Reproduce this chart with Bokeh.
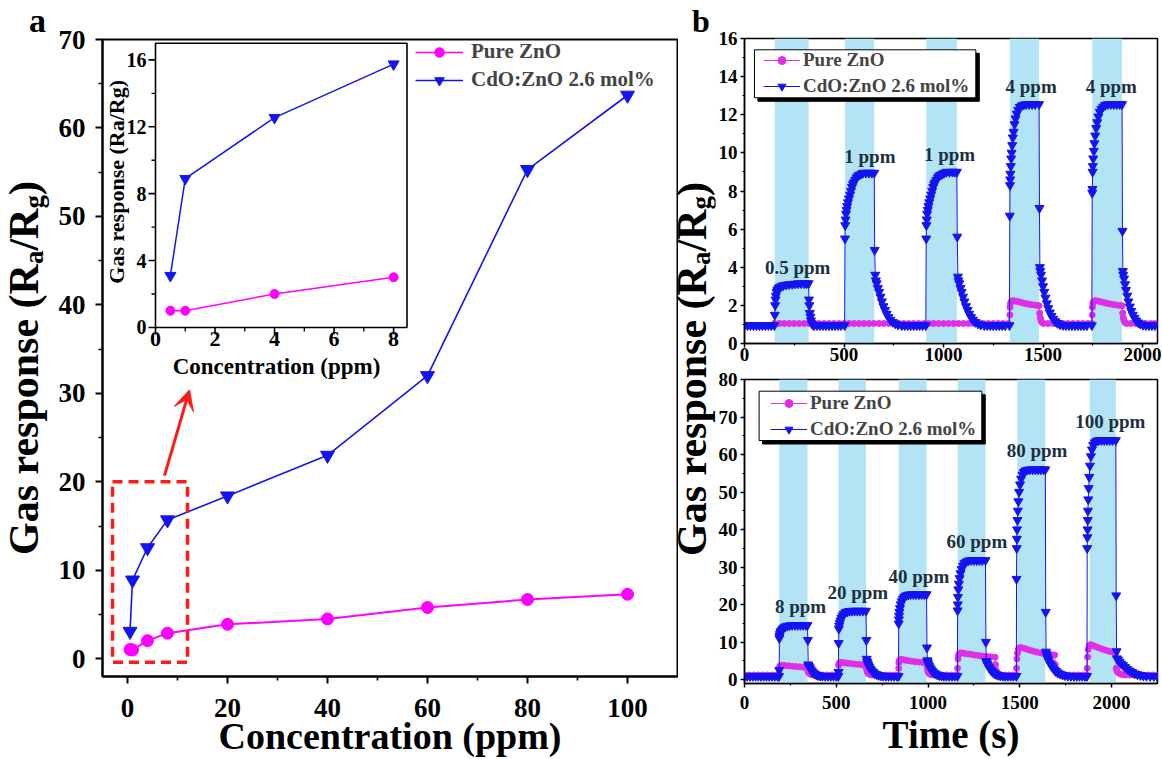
import math
from bokeh.plotting import figure
from bokeh.models import (Range1d, FixedTicker, Legend, LegendItem, Div,
                          BoxAnnotation, Arrow, VeeHead)
from bokeh.layouts import row, column
from bokeh.core.properties import value
from bokeh.embed import file_html
from bokeh.resources import INLINE

FONT = "Liberation Serif"

# ---------------- panel a data ----------------
conc = [0.5, 1, 4, 8, 20, 40, 60, 80, 100]
zno_resp = [1.05, 1.0, 2.05, 2.9, 3.9, 4.5, 5.8, 6.7, 7.3]
cdo_resp = [3.1, 8.9, 12.55, 15.7, 18.4, 23.0, 32.0, 55.3, 63.7]
inset_conc = [0.5, 1, 4, 8]
inset_zno = [1.0, 1.0, 2.0, 3.0]
inset_cdo = [3.1, 8.9, 12.55, 15.75]
a_xticks = [0, 20, 40, 60, 80, 100]
a_xminor = [10, 30, 50, 70, 90]
a_yticks = [0, 10, 20, 30, 40, 50, 60, 70]
a_yminor = [5, 15, 25, 35, 45, 55, 65]
inset_xticks = [0, 2, 4, 6, 8]
inset_xminor = [1, 3, 5, 7]
inset_yticks = [0, 4, 8, 12, 16]
inset_yminor = [2, 6, 10, 14]
zoom_box = [-3, 12, -0.4, 20]          # left, right, bottom, top (ppm, response)
zoom_arrow = [7.4, 20.7, 12.4, 30.4]   # x_start, y_start, x_end, y_end

# ---------------- panel b data ----------------
b_xticks = [0, 500, 1000, 1500, 2000]
b_xminor = [250, 750, 1250, 1750]
top_yticks = [0, 2, 4, 6, 8, 10, 12, 14, 16]
top_yminor = [1, 3, 5, 7, 9, 11, 13, 15]
bot_yticks = [0, 10, 20, 30, 40, 50, 60, 70, 80]
bot_yminor = [5, 15, 25, 35, 45, 55, 65, 75]

top_band_start = [152, 505, 913, 1333, 1747]
top_band_end = [322, 652, 1067, 1480, 1897]
top_labels = ["0.5 ppm", "1 ppm", "1 ppm", "4 ppm", "4 ppm"]
top_label_t = [267, 630, 1030, 1440, 1843]
top_label_v = [4.0, 9.8, 9.9, 13.5, 13.5]

bot_band_start = [189, 512, 840, 1161, 1486, 1881]
bot_band_end = [343, 662, 992, 1313, 1639, 2023]
bot_labels = ["8 ppm", "20 ppm", "40 ppm", "60 ppm", "80 ppm", "100 ppm"]
bot_label_t = [305, 617, 950, 1266, 1594, 1993]
bot_label_v = [19.5, 23.1, 27.5, 36.8, 61.2, 68.8]

# (time s, response)
top_cdo = [
    (0, 0.95), (15, 0.95), (30, 0.95), (45, 0.95), (60, 0.95), (75, 0.95), (90, 0.95), (105, 0.95),
    (120, 0.95), (135, 0.95), (150, 0.95),
    (152, 1.5), (154, 2.0), (156, 2.3), (158, 2.5), (161, 2.7), (165, 2.8), (170, 2.9), (177, 2.95),
    (185, 3.0), (195, 3.05), (210, 3.08), (225, 3.1), (240, 3.12), (255, 3.13), (270, 3.15), (285, 3.15),
    (300, 3.15), (312, 3.15), (322, 3.15),
    (324, 2.3), (326, 2.0), (328, 1.6), (331, 1.4), (334, 1.2), (338, 1.05), (343, 1.0), (350, 0.95),
    (365, 0.95), (380, 0.95), (395, 0.95), (410, 0.95), (425, 0.95), (440, 0.95), (455, 0.95), (470, 0.95),
    (485, 0.95), (503, 0.95),
    (505, 5.5), (506, 6.2), (508, 6.5), (510, 6.8), (513, 7.0), (516, 7.2), (520, 7.4), (525, 7.6),
    (530, 7.8), (535, 8.0), (540, 8.2), (545, 8.35), (550, 8.45), (556, 8.58), (563, 8.7), (570, 8.8),
    (578, 8.85), (587, 8.9), (596, 8.95), (610, 8.95), (625, 8.95), (640, 8.95), (652, 8.95),
    (654, 4.9), (657, 3.6), (660, 3.3), (664, 3.15), (670, 2.9), (676, 2.7), (683, 2.45), (690, 2.2),
    (698, 1.95), (706, 1.75), (714, 1.55), (723, 1.38), (733, 1.24), (745, 1.12), (758, 1.04), (772, 0.98),
    (790, 0.95), (805, 0.95), (820, 0.95), (835, 0.95), (850, 0.95), (865, 0.95), (880, 0.95), (895, 0.95),
    (911, 0.95),
    (913, 5.5), (914, 6.2), (916, 6.5), (918, 6.8), (921, 7.0), (924, 7.2), (928, 7.4), (933, 7.6),
    (938, 7.8), (943, 8.0), (948, 8.2), (953, 8.35), (958, 8.45), (964, 8.58), (971, 8.7), (978, 8.8),
    (986, 8.85), (995, 8.9), (1004, 8.95), (1015, 9.0), (1030, 9.0), (1045, 9.0), (1057, 9.0), (1067, 9.0),
    (1069, 5.6), (1072, 3.5), (1075, 3.3), (1079, 3.15), (1085, 2.9), (1091, 2.7), (1098, 2.45), (1105, 2.2),
    (1113, 1.95), (1121, 1.75), (1129, 1.55), (1138, 1.38), (1148, 1.24), (1160, 1.12), (1173, 1.04),
    (1187, 0.98), (1205, 0.95), (1220, 0.95), (1235, 0.95), (1250, 0.95), (1265, 0.95), (1280, 0.95),
    (1295, 0.95), (1310, 0.95), (1331, 0.95),
    (1333, 6.7), (1334, 8.3), (1335, 8.6), (1336, 8.9), (1338, 9.3), (1340, 9.7), (1342, 10.0), (1345, 10.4),
    (1348, 10.8), (1352, 11.1), (1357, 11.5), (1362, 11.8), (1368, 12.05), (1375, 12.25), (1383, 12.4),
    (1392, 12.48), (1402, 12.52), (1415, 12.55), (1430, 12.55), (1445, 12.55), (1460, 12.55), (1480, 12.55),
    (1482, 7.1), (1484, 4.0), (1486, 3.8), (1490, 3.6), (1495, 3.3), (1500, 3.0), (1506, 2.7), (1512, 2.4),
    (1519, 2.1), (1526, 1.85), (1534, 1.62), (1542, 1.44), (1551, 1.29), (1561, 1.16), (1572, 1.07),
    (1585, 1.0), (1600, 0.96), (1615, 0.95), (1630, 0.95), (1645, 0.95), (1660, 0.95), (1675, 0.95),
    (1690, 0.95), (1705, 0.95), (1720, 0.95), (1745, 0.95),
    (1747, 7.9), (1748, 8.1), (1749, 9.0), (1750, 9.3), (1752, 9.7), (1755, 10.1), (1758, 10.5), (1762, 10.9),
    (1767, 11.3), (1772, 11.6), (1778, 11.9), (1785, 12.15), (1793, 12.3), (1802, 12.42), (1812, 12.5),
    (1825, 12.55), (1840, 12.55), (1855, 12.55), (1870, 12.55), (1885, 12.55), (1897, 12.55),
    (1899, 5.9), (1901, 3.8), (1903, 3.6), (1907, 3.4), (1912, 3.1), (1917, 2.8), (1923, 2.5), (1929, 2.2),
    (1936, 1.93), (1943, 1.7), (1951, 1.5), (1959, 1.34), (1968, 1.2), (1978, 1.1), (1989, 1.03),
    (2002, 0.97), (2017, 0.95), (2032, 0.95), (2047, 0.95), (2062, 0.95),
]

top_zno = [
    (150, 1.05), (175, 1.05), (200, 1.05), (225, 1.05), (250, 1.05), (275, 1.05), (300, 1.05), (325, 1.05),
    (350, 1.05), (375, 1.05), (400, 1.05), (425, 1.05), (450, 1.05), (475, 1.05), (500, 1.05), (525, 1.05),
    (550, 1.05), (575, 1.05), (600, 1.05), (625, 1.05), (650, 1.05), (675, 1.05), (700, 1.05), (725, 1.05),
    (750, 1.05), (775, 1.05), (800, 1.05), (825, 1.05), (850, 1.05), (875, 1.05), (900, 1.05), (925, 1.05),
    (950, 1.05), (975, 1.05), (1000, 1.05), (1025, 1.05), (1050, 1.05), (1075, 1.05), (1100, 1.05),
    (1125, 1.05), (1150, 1.05), (1175, 1.05), (1200, 1.05), (1225, 1.05), (1250, 1.05), (1275, 1.05),
    (1300, 1.05), (1325, 1.05),
    (1333, 1.5), (1334, 1.9), (1336, 2.1), (1340, 2.2), (1350, 2.25), (1365, 2.22), (1380, 2.18),
    (1395, 2.14), (1410, 2.1), (1425, 2.07), (1440, 2.04), (1455, 2.02), (1470, 2.0), (1480, 1.98),
    (1483, 1.6), (1486, 1.35), (1490, 1.2), (1495, 1.1), (1502, 1.05), (1525, 1.05), (1550, 1.05),
    (1575, 1.05), (1600, 1.05), (1625, 1.05), (1650, 1.05), (1675, 1.05), (1700, 1.05), (1725, 1.05),
    (1745, 1.05),
    (1747, 1.5), (1748, 1.9), (1750, 2.1), (1754, 2.2), (1764, 2.25), (1779, 2.22), (1794, 2.18),
    (1809, 2.14), (1824, 2.1), (1839, 2.07), (1854, 2.04), (1869, 2.02), (1884, 2.0), (1897, 1.98),
    (1900, 1.6), (1903, 1.35), (1907, 1.2), (1912, 1.1), (1919, 1.05), (1940, 1.05), (1965, 1.05),
    (1990, 1.05), (2015, 1.05), (2040, 1.05), (2060, 1.05),
]

bot_cdo = [
    (0, 0.9), (15, 0.9), (30, 0.9), (45, 0.9), (60, 0.9), (75, 0.9), (90, 0.9), (105, 0.9), (120, 0.9),
    (135, 0.9), (150, 0.9), (165, 0.9), (180, 0.9), (188, 0.9),
    (189, 2.5), (190, 11.0), (191, 11.6), (193, 12.1), (196, 12.6), (200, 13.0), (206, 13.4), (213, 13.8),
    (222, 14.1), (232, 14.3), (245, 14.4), (260, 14.5), (275, 14.5), (290, 14.5), (305, 14.5), (320, 14.5),
    (335, 14.5), (343, 14.5),
    (345, 10.5), (347, 4.0), (349, 3.7), (352, 3.4), (356, 3.0), (361, 2.6), (367, 2.2), (374, 1.85),
    (382, 1.55), (391, 1.3), (401, 1.12), (412, 1.0), (425, 0.93), (440, 0.9),
    (455, 0.9), (470, 0.9), (485, 0.9), (500, 0.9), (511, 0.9),
    (512, 2.0), (513, 9.7), (514, 13.5), (516, 14.3), (519, 15.0), (523, 15.7), (528, 16.4), (534, 17.0),
    (541, 17.5), (550, 17.9), (560, 18.1), (572, 18.25), (585, 18.3), (600, 18.3), (615, 18.3), (630, 18.3),
    (645, 18.3), (662, 18.3),
    (664, 10.5), (666, 5.5), (668, 4.8), (671, 4.3), (675, 3.8), (680, 3.3), (686, 2.8), (693, 2.35),
    (701, 1.95), (710, 1.6), (720, 1.35), (731, 1.15), (743, 1.02), (756, 0.95), (770, 0.9), (785, 0.9),
    (800, 0.9), (815, 0.9), (830, 0.9), (839, 0.9),
    (840, 14.9), (841, 16.0), (842, 17.0), (844, 18.0), (847, 19.0), (851, 20.0), (856, 20.8), (862, 21.5),
    (870, 22.0), (880, 22.4), (892, 22.6), (905, 22.7), (920, 22.7), (935, 22.7), (950, 22.7), (965, 22.7),
    (980, 22.7), (992, 22.7),
    (994, 8.5), (996, 5.1), (998, 4.7), (1001, 4.2), (1005, 3.7), (1010, 3.2), (1016, 2.7), (1023, 2.25),
    (1031, 1.85), (1040, 1.55), (1050, 1.3), (1061, 1.12), (1073, 1.0), (1086, 0.93), (1100, 0.9),
    (1115, 0.9), (1130, 0.9), (1145, 0.9), (1160, 0.9),
    (1161, 18.4), (1162, 20.0), (1163, 22.0), (1165, 24.0), (1168, 25.5), (1172, 27.0), (1177, 28.3),
    (1183, 29.4), (1190, 30.3), (1198, 31.0), (1208, 31.4), (1220, 31.7), (1235, 31.8), (1250, 31.8),
    (1265, 31.8), (1280, 31.8), (1295, 31.8), (1313, 31.8),
    (1315, 10.0), (1317, 4.9), (1319, 4.6), (1322, 4.2), (1326, 3.8), (1331, 3.3), (1337, 2.85),
    (1344, 2.4), (1352, 2.0), (1361, 1.65), (1371, 1.38), (1382, 1.17), (1394, 1.03), (1407, 0.95),
    (1420, 0.9), (1435, 0.9), (1450, 0.9), (1465, 0.9), (1481, 0.9),
    (1482, 26.8), (1483, 35.0), (1484, 37.5), (1485, 40.0), (1487, 42.5), (1489, 45.0), (1492, 47.5),
    (1496, 50.0), (1501, 52.0), (1507, 53.5), (1514, 54.6), (1522, 55.3), (1531, 55.7), (1542, 55.9),
    (1555, 56.0), (1570, 56.0), (1585, 56.0), (1600, 56.0), (1615, 56.0), (1630, 56.0), (1639, 56.0),
    (1641, 18.0), (1643, 7.4), (1645, 6.8), (1648, 6.2), (1652, 5.6), (1657, 5.0), (1663, 4.4),
    (1670, 3.8), (1678, 3.2), (1687, 2.7), (1697, 2.25), (1708, 1.85), (1720, 1.5), (1733, 1.25),
    (1747, 1.07), (1762, 0.96), (1778, 0.9), (1795, 0.9), (1810, 0.9), (1825, 0.9), (1840, 0.9),
    (1855, 0.9), (1866, 0.9),
    (1867, 35.0), (1868, 37.9), (1869, 40.0), (1870, 42.5), (1871, 45.0), (1873, 48.0), (1875, 51.0),
    (1878, 54.0), (1882, 57.0), (1887, 59.5), (1893, 61.3), (1900, 62.5), (1908, 63.2), (1918, 63.6),
    (1930, 63.8), (1945, 63.8), (1960, 63.8), (1975, 63.8), (1990, 63.8), (2005, 63.8), (2023, 63.8),
    (2025, 22.4), (2027, 7.5), (2029, 5.6), (2035, 5.2), (2043, 4.7), (2052, 4.2), (2062, 3.8),
    (2073, 3.3), (2085, 2.8), (2098, 2.35), (2112, 1.95), (2126, 1.6), (2141, 1.35), (2157, 1.15),
    (2173, 1.02), (2190, 0.95), (2210, 0.9), (2230, 0.9), (2248, 0.9),
]

bot_zno = [
    (0, 1.2), (25, 1.2), (50, 1.2), (75, 1.2), (100, 1.2), (125, 1.2), (150, 1.2), (175, 1.2), (188, 1.2),
    (189, 1.5), (190, 3.0), (192, 3.5), (196, 3.7), (205, 3.8), (220, 3.75), (240, 3.65), (260, 3.55),
    (280, 3.45), (300, 3.38), (320, 3.3), (343, 3.2),
    (345, 2.5), (348, 2.0), (352, 1.7), (358, 1.45), (366, 1.3), (376, 1.2), (400, 1.2), (425, 1.2),
    (450, 1.2), (475, 1.2), (500, 1.2), (511, 1.2),
    (512, 2.0), (513, 3.8), (515, 4.3), (520, 4.5), (530, 4.55), (545, 4.45), (560, 4.35), (580, 4.25),
    (600, 4.15), (620, 4.05), (640, 3.95), (662, 3.85),
    (664, 3.0), (667, 2.3), (671, 1.8), (677, 1.5), (685, 1.3), (695, 1.2), (720, 1.2), (745, 1.2),
    (770, 1.2), (795, 1.2), (820, 1.2), (839, 1.2),
    (840, 3.0), (841, 4.5), (843, 5.0), (848, 5.3), (858, 5.35), (873, 5.2), (890, 5.05), (910, 4.9),
    (930, 4.75), (950, 4.65), (970, 4.55), (992, 4.45),
    (995, 3.5), (998, 2.5), (1002, 1.9), (1008, 1.5), (1016, 1.3), (1026, 1.2), (1050, 1.2), (1075, 1.2),
    (1100, 1.2), (1125, 1.2), (1150, 1.2), (1160, 1.2),
    (1161, 3.0), (1163, 5.5), (1166, 6.5), (1172, 7.0), (1182, 7.1), (1200, 6.95), (1220, 6.8),
    (1240, 6.65), (1260, 6.5), (1280, 6.35), (1300, 6.25), (1320, 6.15), (1340, 6.05), (1365, 5.95),
    (1368, 4.0), (1371, 2.5), (1375, 1.8), (1381, 1.45), (1389, 1.3), (1399, 1.2), (1420, 1.2),
    (1440, 1.2), (1460, 1.2), (1481, 1.2),
    (1482, 3.0), (1484, 5.5), (1487, 7.0), (1492, 8.0), (1500, 8.5), (1512, 8.45), (1530, 8.2),
    (1550, 7.9), (1570, 7.6), (1590, 7.35), (1610, 7.1), (1630, 6.9), (1650, 6.75), (1670, 6.65),
    (1690, 6.55),
    (1693, 4.0), (1696, 2.5), (1700, 1.8), (1706, 1.45), (1714, 1.3), (1724, 1.2), (1745, 1.2),
    (1770, 1.2), (1795, 1.2), (1820, 1.2), (1845, 1.2), (1866, 1.2),
    (1867, 3.0), (1869, 6.0), (1872, 8.0), (1877, 9.0), (1885, 9.3), (1897, 9.1), (1912, 8.8),
    (1930, 8.45), (1950, 8.1), (1970, 7.8), (1990, 7.5), (2010, 7.25), (2023, 7.1),
    (2025, 3.0), (2028, 2.5), (2033, 2.0), (2040, 1.7), (2050, 1.45), (2062, 1.3), (2076, 1.2),
    (2100, 1.2), (2125, 1.2), (2150, 1.2), (2175, 1.2), (2200, 1.2), (2225, 1.2), (2250, 1.2),
]

# ---------------- styles ----------------
BLUE = "#1414f0"
PINK_A = "#ff00ff"
PINK_B = "#e02ee6"
BAND = "#b3e4f5"
RED = "#ff1a1a"
TXT_B = "#1c3040"
H = 759
ASC = 0.837   # baseline position inside a line-height:1 box (Liberation Serif)


def style_axes(p, tick_font, lw, tick_out, minor_out, standoff):
    for ax in (p.xaxis, p.yaxis):
        ax.major_label_text_font = FONT
        ax.major_label_text_font_style = "bold"
        ax.major_label_text_font_size = tick_font
        ax.major_label_text_color = "black"
        ax.axis_line_width = lw
        ax.major_tick_line_width = lw
        ax.minor_tick_line_width = lw * 0.8
        ax.major_tick_out = tick_out
        ax.major_tick_in = 0
        ax.minor_tick_out = minor_out
        ax.minor_tick_in = 0
        ax.major_label_standoff = standoff
        ax.axis_label_text_font = FONT
        ax.axis_label_text_font_style = "bold"
        ax.axis_label_text_color = "black"
    p.xgrid.visible = False
    p.ygrid.visible = False
    p.outline_line_color = "black"
    p.outline_line_width = lw
    p.background_fill_color = "white"
    p.border_fill_color = "white"


def txt_css(size):
    return (f"font-family:'{FONT}';font-weight:bold;font-size:{size}px;"
            f"line-height:1;color:black;white-space:nowrap;margin:0;padding:0;")


def letter_html(x, baseline, ch, size):
    return (f'<div style="position:absolute;left:{x}px;top:{baseline - ASC * size:.1f}px;'
            f'{txt_css(size)}">{ch}</div>')


def ylabel_html(x_base, y_start, size, sub, drop):
    s = f'<span style="font-size:{sub}px;vertical-align:-{drop}px;">'
    return (f'<div style="position:absolute;left:{x_base - ASC * size:.1f}px;top:{y_start}px;'
            f'transform-origin:0 0;transform:rotate(-90deg);{txt_css(size)}">'
            f'Gas response (R{s}a</span>/R{s}g</span>)</div>')


def label_strip(width, inner):
    return Div(text=(f'<div style="position:relative;width:{width}px;height:{H}px;'
                     f'overflow:visible;margin:0;padding:0;">{inner}</div>'),
               width=width, height=H, margin=0)


# ---------------- left strip: "a" + y label ----------------
SA_W = 52
div_a = label_strip(SA_W, letter_html(29, 32, "a", 34) + ylabel_html(38, 555, 42, 27, 5))

# ---------------- panel a ----------------
A_W = 626
A_L, A_R, A_T, A_B = 50, 1, 39, 80
AX0, AX1, AY0, AY1 = -5, 110, -2, 70
pa = figure(width=A_W, height=H, x_range=Range1d(AX0, AX1), y_range=Range1d(AY0, AY1),
            min_border_left=A_L, min_border_right=A_R, min_border_top=A_T, min_border_bottom=A_B,
            toolbar_location=None, tools="", output_backend="svg")
style_axes(pa, "27px", 2, 7, 4, 10)
pa.xaxis.major_label_standoff = 15
pa.xaxis.ticker = FixedTicker(ticks=a_xticks, minor_ticks=a_xminor)
pa.yaxis.ticker = FixedTicker(ticks=a_yticks, minor_ticks=a_yminor)
pa.xaxis.axis_label = "Concentration (ppm)"
pa.xaxis.axis_label_text_font_size = "38px"
pa.xaxis.axis_label_standoff = -5

pa.line(conc, zno_resp, color=PINK_A, line_width=2)
pa.scatter(conc, zno_resp, marker="circle", size=12, color=PINK_A)
pa.line(conc, cdo_resp, color=BLUE, line_width=1.6)
pa.scatter(conc, cdo_resp, marker="inverted_triangle", size=14, color=BLUE)

pa.quad(left=[zoom_box[0]], right=[zoom_box[1]], bottom=[zoom_box[2]], top=[zoom_box[3]],
        fill_alpha=0, line_color=RED, line_width=3.5, line_dash="10 6")
pa.add_layout(Arrow(end=VeeHead(size=20, fill_color=RED, line_color=RED),
                    x_start=zoom_arrow[0], y_start=zoom_arrow[1],
                    x_end=zoom_arrow[2], y_end=zoom_arrow[3],
                    line_color=RED, line_width=3))

# inset geometry (page pixels) -> extra ranges
FX0, FX1 = SA_W + A_L, SA_W + A_W - A_R
FY0, FY1 = A_T, H - A_B
IN_L, IN_R, IN_T, IN_B = 155, 406.5, 42.7, 328.3
IX1, IY1 = 8.45, 17.0
isx = (IN_R - IN_L) / IX1
isy = (IN_B - IN_T) / IY1
pa.extra_x_ranges = {"inset": Range1d(-(IN_L - FX0) / isx, IX1 + (FX1 - IN_R) / isx)}
pa.extra_y_ranges = {"inset": Range1d(-(FY1 - IN_B) / isy, IY1 + (IN_T - FY0) / isy)}


def ixp(px):
    return (px - IN_L) / isx


def iyp(py):
    return (IN_B - py) / isy


IK = dict(x_range_name="inset", y_range_name="inset")
pa.quad(left=[0], right=[IX1], bottom=[0], top=[IY1], fill_color="white",
        line_color="black", line_width=1.6, **IK)
pa.segment(x0=inset_xticks, y0=[0] * 5, x1=inset_xticks, y1=[iyp(IN_B + 7)] * 5,
           line_color="black", line_width=1.6, **IK)
pa.segment(x0=inset_xminor, y0=[0] * 4, x1=inset_xminor, y1=[iyp(IN_B + 4)] * 4,
           line_color="black", line_width=1.3, **IK)
pa.segment(x0=[0] * 5, y0=inset_yticks, x1=[ixp(IN_L - 7)] * 5, y1=inset_yticks,
           line_color="black", line_width=1.6, **IK)
pa.segment(x0=[0] * 4, y0=inset_yminor, x1=[ixp(IN_L - 4)] * 4, y1=inset_yminor,
           line_color="black", line_width=1.3, **IK)
pa.text(x=inset_xticks, y=[iyp(IN_B + 5)] * 5, text=[str(t) for t in inset_xticks],
        text_font=value(FONT), text_font_style="bold", text_font_size="22px",
        text_align="center", text_baseline="top", text_color="black", **IK)
pa.text(x=[ixp(IN_L - 9)] * 5, y=inset_yticks, text=[str(t) for t in inset_yticks],
        text_font=value(FONT), text_font_style="bold", text_font_size="20px",
        text_align="right", text_baseline="middle", text_color="black", **IK)
pa.text(x=[ixp(276)], y=[iyp(368)], text=["Concentration (ppm)"],
        text_font=value(FONT), text_font_style="bold", text_font_size="23px",
        text_align="center", text_baseline="middle", text_color="black", **IK)
pa.text(x=[ixp(116)], y=[iyp(182)], text=["Gas response (Ra/Rg)"], angle=math.pi / 2,
        text_font=value(FONT), text_font_style="bold", text_font_size="22px",
        text_align="center", text_baseline="middle", text_color="black", **IK)
pa.line(inset_conc, inset_zno, color=PINK_A, line_width=1.5, **IK)
pa.scatter(inset_conc, inset_zno, marker="circle", size=9, color=PINK_A, **IK)
pa.line(inset_conc, inset_cdo, color=BLUE, line_width=1.5, **IK)
pa.scatter(inset_conc, inset_cdo, marker="inverted_triangle", size=11, color=BLUE, **IK)

nan = float("nan")
lz1 = pa.line([nan], [nan], color=PINK_A, line_width=1.5)
lz2 = pa.scatter([nan], [nan], marker="circle", size=17, color=PINK_A)
lc1 = pa.line([nan], [nan], color=BLUE, line_width=1.5)
lc2 = pa.scatter([nan], [nan], marker="inverted_triangle", size=20, color=BLUE)
leg_a = Legend(items=[LegendItem(label="Pure ZnO", renderers=[lz1, lz2]),
                      LegendItem(label="CdO:ZnO 2.6 mol%", renderers=[lc1, lc2])],
               location=(313, 584), glyph_width=48, glyph_height=24, label_height=24,
               spacing=3, padding=0, margin=0, label_standoff=8,
               border_line_alpha=0, background_fill_alpha=0,
               label_text_font=FONT, label_text_font_style="bold", label_text_font_size="21px")
pa.add_layout(leg_a)

# ---------------- middle strip: "b" + y label ----------------
SB_W = 37
SB_X = SA_W + A_W
div_b = label_strip(SB_W, letter_html(692 - SB_X, 32, "b", 32) +
                    ylabel_html(706 - SB_X, 556, 42, 27, 4))

# ---------------- panel b ----------------
B_W = 1162 - SA_W - A_W - SB_W
B_L, B_R = 26, 5
BX0 = SA_W + A_W + SB_W + B_L
BX1 = 1162 - B_R


def make_b(y0, height, btop, bbot, xr, yr, yticks, yminor, bs, be, zno, cdo,
           labels, lt, lv, leg_loc, box_px, xstand, xlabel=None):
    p = figure(width=B_W, height=height, x_range=Range1d(*xr), y_range=Range1d(*yr),
               min_border_left=B_L, min_border_right=B_R, min_border_top=btop,
               min_border_bottom=bbot, toolbar_location=None, tools="", output_backend="svg")
    style_axes(p, "19px", 1.5, 4, 2, 3)
    p.xaxis.major_label_standoff = xstand
    p.xaxis.ticker = FixedTicker(ticks=b_xticks, minor_ticks=b_xminor)
    p.yaxis.ticker = FixedTicker(ticks=yticks, minor_ticks=yminor)
    if xlabel:
        p.xaxis.axis_label = xlabel
        p.xaxis.axis_label_text_font_size = "39px"
        p.xaxis.axis_label_standoff = 1
    fy_top = y0 + btop
    fy_bot = y0 + height - bbot

    def fx(px):
        return xr[0] + (px - BX0) / (BX1 - BX0) * (xr[1] - xr[0])

    def fy(py):
        return yr[0] + (fy_bot - py) / (fy_bot - fy_top) * (yr[1] - yr[0])

    p.quad(left=bs, right=be, bottom=yr[0], top=yr[1], fill_color=BAND, line_color=None)
    zt = [a for a, b in zno]
    zv = [b for a, b in zno]
    ct = [a for a, b in cdo]
    cv = [b for a, b in cdo]
    zl = p.line(zt, zv, color=PINK_B, line_width=1)
    zs = p.scatter(zt, zv, marker="circle", size=6, color=PINK_B)
    cl = p.line(ct, cv, color=BLUE, line_width=1)
    cs = p.scatter(ct, cv, marker="inverted_triangle", size=9, color=BLUE)
    p.text(x=lt, y=lv, text=labels, text_font=value(FONT), text_font_style="bold",
           text_font_size="19px", text_align="center", text_baseline="middle", text_color=TXT_B)
    l, t, r, b = box_px
    off = 3.5
    p.add_layout(BoxAnnotation(left=fx(l + off), right=fx(r + off), top=fy(t + off),
                               bottom=fy(b + off), fill_color="black", fill_alpha=1,
                               line_color="black", line_alpha=1))
    p.add_layout(BoxAnnotation(left=fx(l), right=fx(r), top=fy(t), bottom=fy(b),
                               fill_color="white", fill_alpha=1, line_color="black",
                               line_alpha=1, line_width=1))
    leg = Legend(items=[LegendItem(label="Pure ZnO", renderers=[zl, zs]),
                        LegendItem(label="CdO:ZnO 2.6 mol%", renderers=[cl, cs])],
                 location=leg_loc, glyph_width=37, glyph_height=20, label_height=20,
                 spacing=4, padding=0, margin=0, label_standoff=3,
                 border_line_alpha=0, background_fill_alpha=0,
                 label_text_font=FONT, label_text_font_style="bold", label_text_font_size="19px")
    p.add_layout(leg)
    return p


TOP_H = 368
pt = make_b(0, TOP_H, 38, 25, (0, 2075), (0, 16), top_yticks, top_yminor,
            top_band_start, top_band_end, top_zno, top_cdo,
            top_labels, top_label_t, top_label_v, (19, 246), (751, 49.3, 974, 97.3), 0)
pb = make_b(TOP_H, H - TOP_H, 11, 76, (0, 2250), (-1.06, 80), bot_yticks, bot_yminor,
            bot_band_start, bot_band_end, bot_zno, bot_cdo,
            bot_labels, bot_label_t, bot_label_v, (26, 243), (755.7, 390.7, 980, 440), 8,
            xlabel="Time (s)")

layout = row(div_a, pa, div_b, column(pt, pb, spacing=0), spacing=0)
open("out.html", "w").write(file_html(layout, INLINE))
